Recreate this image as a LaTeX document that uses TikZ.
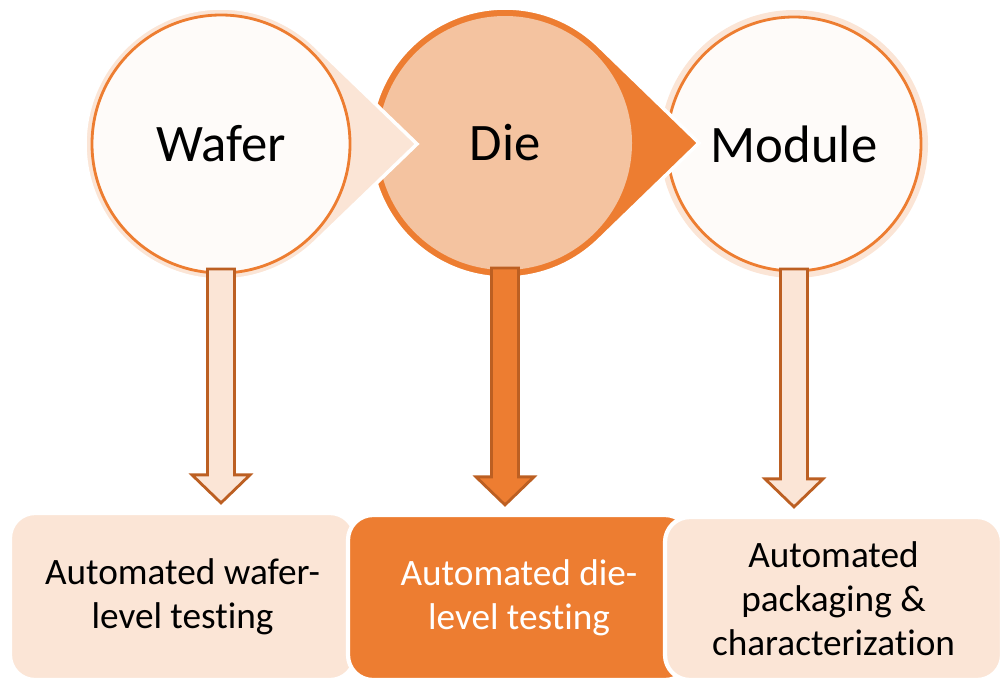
\documentclass[tikz,border=0pt]{standalone}
\usepackage{fontspec}
\setmainfont{Carlito}[Ligatures=CommonOff]
\usetikzlibrary{calc}
\definecolor{accent}{HTML}{ED7D31}
\definecolor{peach}{HTML}{FBE5D6}
\definecolor{diefill}{HTML}{F4C3A0}
\definecolor{paper}{HTML}{FEFBF9}
\definecolor{arrowedge}{HTML}{BC5F22}
\tikzset{
  stage/.style={circle,draw=accent,line width=0.8pt,fill=paper,inner sep=0pt,
    minimum size=2.56cm,font=\fontsize{15}{18}\selectfont},
  task/.style={rounded corners=2.5mm,draw=white,line width=1.2pt,inner sep=0pt,
    align=center,font=\fontsize{10.6}{12.6}\selectfont},
  dnarrow/.style={draw=arrowedge,line width=0.8pt}
}
\begin{document}
\begin{tikzpicture}
  \useasboundingbox (0,0) rectangle (10.05,-6.81);
  % circle centres
  \coordinate (cw) at (2.21,-1.44);
  \coordinate (cd) at (5.05,-1.43);
  \coordinate (cm) at (7.94,-1.44);
  % Module goes first, the Die point lies over it
  \fill[peach] (cm) circle (1.34);
  \node[stage,minimum size=2.54cm] (module) at (cm) {Module};
  % Die: solid teardrop, lighter disc on top
  \filldraw[fill=accent,draw=white,line width=1pt] (cd) ++(46:1.35)
    arc[start angle=46,end angle=314,radius=1.35] -- ($(cd)+(1.94,0)$) -- cycle;
  \node[stage,draw=none,fill=diefill,minimum size=2.54cm] (die) at (cd) {Die};
  % Wafer: halo with point over the Die disc
  \filldraw[fill=peach,draw=white,line width=1pt] (cw) ++(46:1.36)
    arc[start angle=46,end angle=314,radius=1.36] -- ($(cw)+(1.96,0)$) -- cycle;
  \node[stage,minimum size=2.58cm] (wafer) at (cw) {Wafer};
  % testing steps, each one laid over the one before
  \node[task,fill=peach,minimum width=3.45cm,minimum height=1.67cm] (wbox)
    at (1.825,-5.965) {Automated wafer-\\level testing};
  \node[task,fill=accent,text=white,minimum width=3.42cm,minimum height=1.65cm] (dbox)
    at (5.19,-5.975) {Automated die-\\level testing};
  \node[task,fill=peach,minimum width=3.37cm,minimum height=1.63cm] (mbox)
    at (8.335,-5.985) {Automated\\packaging \&\\characterization};
  % block arrows down from each stage
  \foreach \src/\dst/\col in {wafer/wbox/peach,die/dbox/accent,module/mbox/peach}{
    \draw[dnarrow,fill=\col] let \p1=(\src.center), \p2=(\dst.north) in
      (\x1-1.35mm,\y1-12.5mm) -- (\x1-1.35mm,\y2+3.6mm) -- (\x1-2.9mm,\y2+3.6mm)
      -- (\x1,\y2+0.8mm) -- (\x1+2.9mm,\y2+3.6mm) -- (\x1+1.35mm,\y2+3.6mm)
      -- (\x1+1.35mm,\y1-12.5mm) -- cycle;}
\end{tikzpicture}
\end{document}
